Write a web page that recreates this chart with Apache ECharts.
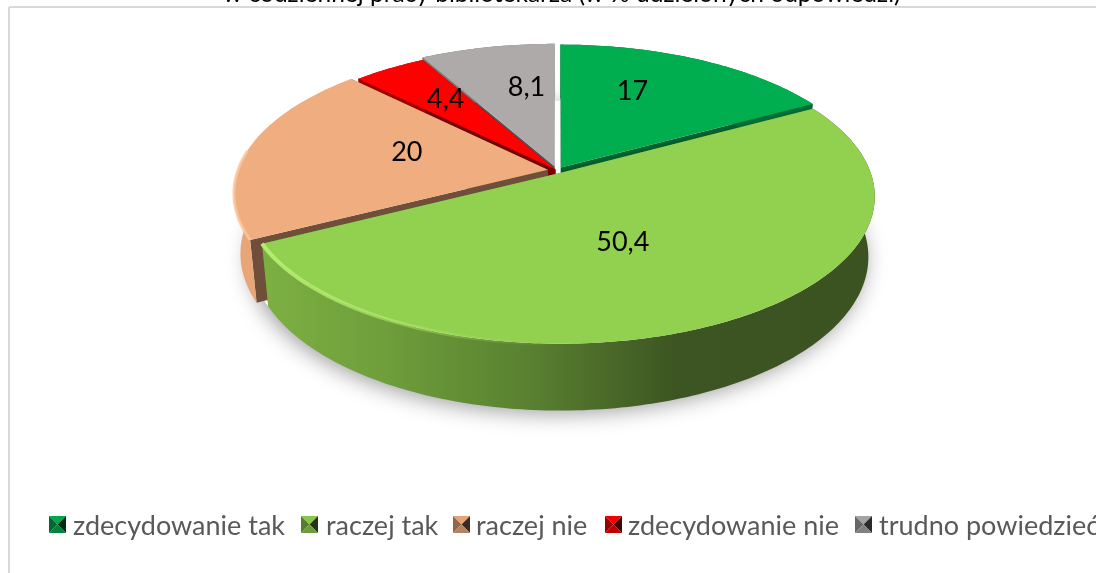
<!DOCTYPE html>
<html>
<head>
<meta charset="utf-8">
<style>
html, body { margin: 0; padding: 0; background: #fff; overflow: hidden; }
#main { width: 1096px; height: 573px; }
</style>
<script src="https://cdn.jsdelivr.net/npm/echarts@6/dist/echarts.min.js"></script>
</head>
<body>
<div id="main"></div>
<script>
var titleText = 'w codziennej pracy bibliotekarza (w % udzielonych odpowiedzi)';
var categories = ['zdecydowanie tak', 'raczej tak', 'raczej nie', 'zdecydowanie nie', 'trudno powiedzieć'];
var values = [17, 50.4, 20, 4.4, 8.1];
var valueLabels = ['17', '50,4', '20', '4,4', '8,1'];

// kolory plasterkow
var topColors = ['#00ae50', '#92d050', '#f0ae80', '#ff0000', '#aeaaaa'];
var cutColors = ['#005f2c', '#5f8a33', '#6f4e3a', '#7a0000', '#55565a'];
var wallColors = ['#006d34', '#5f8a33', '#e8a678', '#a00000', '#777777'];
// kolejnosc rysowania: z tylu do przodu
var drawOrder = [2, 4, 3, 1, 0];
var explode = [0.025, 0.02, 0.03, 0.008, 0.03];
// pozycja etykiet: promien i obrot wzgledem srodka plasterka
var labelRadius = [0.665, 0.505, 0.51, 0.669, 0.65];
var labelTurn = [-7, 5, 5.5, 1.5, 5];

var legendIconX = [49, 301, 453, 605, 855];
var legendTextX = [73, 326, 476, 628, 879];

var FONT = 'Lato';
// rzut perspektywiczny dysku
var cx = 557, cy = 170.5, A = 310, B = 143, P = 0.157, Q = 0.02, H = 61;

var total = values.reduce(function (a, b) { return a + b; }, 0);
var starts = [];
values.reduce(function (sum, v, i) { starts[i] = sum; return sum + v; }, 0);

function project(U, V, bottom) {
    var w = 1 + P * V + (bottom ? Q : 0);
    return [cx + A * U / w, cy + (-B * V + (bottom ? H : 0)) / w];
}
function offsetOf(i) {
    var mid = (starts[i] + values[i] / 2) / total * Math.PI * 2;
    return [Math.sin(mid) * explode[i], Math.cos(mid) * explode[i]];
}
function rimPoints(i, bottom) {
    var off = offsetOf(i);
    var a0 = starts[i] / total * 360, a1 = (starts[i] + values[i]) / total * 360;
    var pts = [];
    for (var a = a0; a < a1; a += 1) {
        var t = a * Math.PI / 180;
        pts.push(project(Math.sin(t) + off[0], Math.cos(t) + off[1], bottom));
    }
    t = a1 * Math.PI / 180;
    pts.push(project(Math.sin(t) + off[0], Math.cos(t) + off[1], bottom));
    return pts;
}
function wallFill(i) {
    if (i === 1) {
        return {
            type: 'linear', global: true, x: 262, y: 0, x2: 870, y2: 0,
            colorStops: [
                { offset: 0, color: '#7db043' }, { offset: 0.2, color: '#6f9e3b' },
                { offset: 0.45, color: '#587f30' }, { offset: 0.68, color: '#3d5522' },
                { offset: 1, color: '#3b5320' }
            ]
        };
    }
    return wallColors[i];
}
// przyciemnienie koloru dla ikon legendy
function shade(hex, k) {
    var parts = [1, 3, 5].map(function (p) {
        return Math.round(parseInt(hex.substr(p, 2), 16) * k);
    });
    return 'rgb(' + parts.join(',') + ')';
}

function renderSlice(params, api) {
    var i = params.dataIndex;
    var order = drawOrder[i] * 10 + 10;
    var off = offsetOf(i);
    var top = rimPoints(i, false);
    var bot = rimPoints(i, true);
    var apexTop = project(off[0], off[1], false);
    var apexBot = project(off[0], off[1], true);
    var children = [];

    if (i === 1) {
        // cien pod tortem
        var shadowPts = [];
        for (var a = 0; a < 360; a += 3) {
            var s = a * Math.PI / 180;
            shadowPts.push(project(Math.sin(s), Math.cos(s), true));
        }
        children.push({
            type: 'polygon', z2: 1, shape: { points: shadowPts },
            style: { fill: '#fff', shadowBlur: 22, shadowColor: 'rgba(0,0,0,0.4)', shadowOffsetY: 6 }
        });
    }
    // sciany ciecia
    children.push({
        type: 'polygon', z2: order,
        shape: { points: [apexTop, top[top.length - 1], bot[bot.length - 1], apexBot] },
        style: { fill: cutColors[i] }
    });
    children.push({
        type: 'polygon', z2: order,
        shape: { points: [apexTop, top[0], bot[0], apexBot] },
        style: { fill: cutColors[i] }
    });
    // sciana zewnetrzna
    children.push({
        type: 'polygon', z2: order + 1, shape: { points: top.concat(bot.slice().reverse()) },
        style: { fill: wallFill(i) }
    });
    // gora plasterka
    children.push({
        type: 'polygon', z2: order + 2, shape: { points: [apexTop].concat(top) },
        style: { fill: topColors[i] }
    });
    // jasny brzeg po lewej
    if (i === 1) {
        children.push({
            type: 'polyline', z2: order + 3, shape: { points: top.slice(60) },
            style: {
                fill: 'none', lineWidth: 4,
                stroke: {
                    type: 'linear', global: true, x: 262, y: 0, x2: 560, y2: 0,
                    colorStops: [
                        { offset: 0, color: '#b4ee70' },
                        { offset: 0.55, color: 'rgba(180,238,112,0.4)' },
                        { offset: 1, color: 'rgba(146,208,80,0)' }
                    ]
                }
            }
        });
    }
    if (i === 2) {
        children.push({
            type: 'polyline', z2: order + 3, shape: { points: top.slice(0, 36) },
            style: { fill: 'none', lineWidth: 3, stroke: '#f9c79f', opacity: 0.8 }
        });
    }
    // etykieta
    var mid = (starts[i] + api.value(0) / 2) / total * 360 + labelTurn[i];
    var m = mid * Math.PI / 180;
    var lp = project(Math.sin(m) * labelRadius[i], Math.cos(m) * labelRadius[i], false);
    children.push({
        type: 'text', z2: 100, x: lp[0], y: lp[1],
        style: {
            text: valueLabels[i], fill: '#000', font: '27px ' + FONT,
            align: 'center', verticalAlign: 'middle'
        }
    });
    return { type: 'group', children: children };
}

var graphics = [
    { type: 'line', shape: { x1: 9, y1: 7, x2: 1096, y2: 7 }, style: { stroke: '#d9d9d9', lineWidth: 2 } },
    { type: 'line', shape: { x1: 9, y1: 7, x2: 9, y2: 573 }, style: { stroke: '#d9d9d9', lineWidth: 2 } }
];
categories.forEach(function (name, i) {
    var x = legendIconX[i], y = 516, s = 17, c = topColors[i];
    var xc = x + s / 2, yc = y + s / 2;
    var tris = [
        [[x, y], [x + s, y], [xc, yc], 0.95],
        [[x, y], [x, y + s], [xc, yc], 0.6],
        [[x + s, y], [x + s, y + s], [xc, yc], 0.25],
        [[x, y + s], [x + s, y + s], [xc, yc], 0.75]
    ];
    tris.forEach(function (t) {
        graphics.push({
            type: 'polygon', shape: { points: [t[0], t[1], t[2]] },
            style: { fill: shade(c, t[3]) }
        });
    });
    graphics.push({
        type: 'text', x: legendTextX[i], y: 526,
        style: { text: name, fill: '#595959', font: '27px ' + FONT, verticalAlign: 'middle' }
    });
});

var myChart = echarts.init(document.getElementById('main'), null, { renderer: 'canvas' });
var option = {
    animation: false,
    backgroundColor: '#fff',
    title: {
        text: titleText, left: 218, top: -23,
        textStyle: { fontFamily: FONT, fontSize: 24.5, fontWeight: 'normal', color: '#000' }
    },
    graphic: graphics,
    series: [{
        type: 'custom',
        coordinateSystem: 'none',
        renderItem: renderSlice,
        data: values
    }]
};
myChart.setOption(option);
</script>
</body>
</html>
